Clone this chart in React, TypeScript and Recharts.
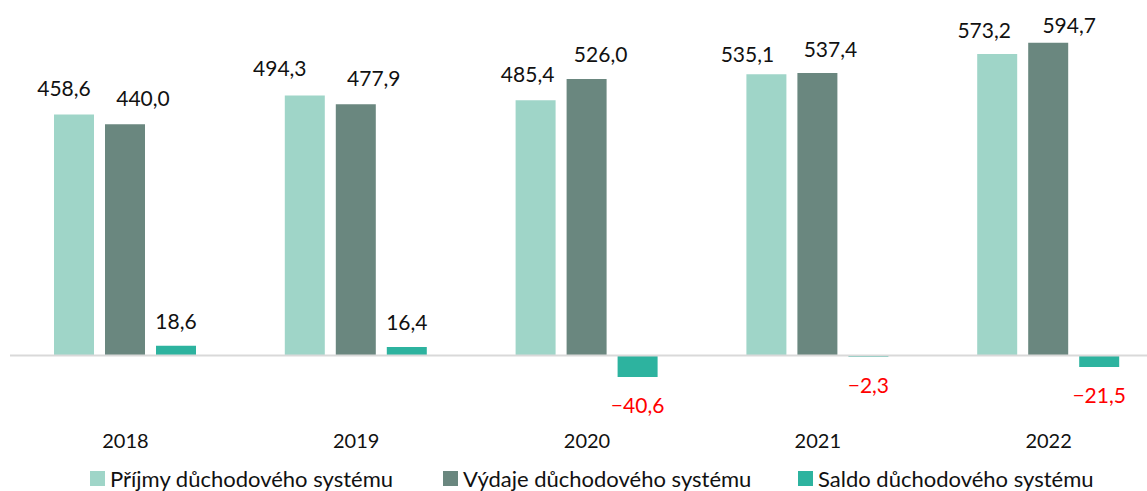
import { Bar, BarChart, LabelList, Legend, ReferenceLine, XAxis, YAxis } from "recharts";

const years = ["2018", "2019", "2020", "2021", "2022"];
const prijmy = [458.6, 494.3, 485.4, 535.1, 573.2];
const vydaje = [440.0, 477.9, 526.0, 537.4, 594.7];
const saldo = [18.6, 16.4, -40.6, -2.3, -21.5];

const seriesNames = ["Příjmy důchodového systému", "Výdaje důchodového systému", "Saldo důchodového systému"];
const colors = ["#9fd5c8", "#6a877f", "#2db39f"];

// manual label placement as in the original (horizontal shift, gap above bar)
const shiftPrijmy = [-10, -25, -8, -19, -13];
const gapPrijmy = [18, 20, 18, 12, 16];
const shiftVydaje = [18, 18, 14, 13, 21];
const gapVydaje = [18, 18, 17, 16, 10];

const data = years.map((y, i) => ({ year: y, prijmy: prijmy[i], vydaje: vydaje[i], saldo: saldo[i] }));

const font = "Lato, 'Open Sans', sans-serif";
const fmt = (v: number) => (v < 0 ? "\u2212" : "") + Math.abs(v).toFixed(1).replace(".", ",");

const makeLabel = (shift?: number[], gap?: number[]) => (props: any) => {
  const { x, y, width, height, value, index } = props;
  const v = Number(value);
  const cx = x + width / 2 + (shift ? shift[index] : 0);
  const top = Math.min(y, y + height);
  const bottom = Math.max(y, y + height);
  if (v < 0) {
    return (
      <text x={cx} y={bottom + 36} textAnchor="middle" fill="#ff0000" fontSize={21} fontFamily={font}>
        {fmt(v)}
      </text>
    );
  }
  return (
    <text x={cx} y={top - (gap ? gap[index] : 17)} textAnchor="middle" fill="#111" fontSize={21} fontFamily={font}>
      {fmt(v)}
    </text>
  );
};

function LegendBox() {
  const lefts = [90, 443, 798];
  return (
    <div style={{ position: "relative", height: 32, fontFamily: font, fontSize: 22, color: "#111" }}>
      {seriesNames.map((n, i) => (
        <div key={n} style={{ position: "absolute", left: lefts[i] - 10, top: 6, display: "flex", alignItems: "center", whiteSpace: "nowrap" }}>
          <span style={{ display: "inline-block", width: 15, height: 15, background: colors[i], marginRight: 5 }} />
          {n}
        </div>
      ))}
    </div>
  );
}

export default function App() {
  return (
    <div style={{ position: "fixed", left: 0, top: 0, width: 1147, height: 491, overflow: "hidden", background: "#fff" }}>
      <BarChart
        width={1164}
        height={491}
        data={data}
        margin={{ top: 40, right: 0, bottom: 0, left: 10 }}
        barSize={40}
        barGap={11}
      >
        <YAxis hide domain={[-130, 600]} />
        <XAxis
          dataKey="year"
          axisLine={false}
          tickLine={false}
          height={35}
          tick={{ fill: "#111", fontSize: 20, fontFamily: font }}
          tickMargin={4}
        />
        <ReferenceLine y={0} stroke="#d9d9d9" strokeWidth={2} />
        <Legend verticalAlign="bottom" content={() => <LegendBox />} />
        <Bar dataKey="prijmy" name={seriesNames[0]} fill={colors[0]} isAnimationActive={false}>
          <LabelList dataKey="prijmy" content={makeLabel(shiftPrijmy, gapPrijmy)} />
        </Bar>
        <Bar dataKey="vydaje" name={seriesNames[1]} fill={colors[1]} isAnimationActive={false}>
          <LabelList dataKey="vydaje" content={makeLabel(shiftVydaje, gapVydaje)} />
        </Bar>
        <Bar dataKey="saldo" name={seriesNames[2]} fill={colors[2]} isAnimationActive={false}>
          <LabelList dataKey="saldo" content={makeLabel()} />
        </Bar>
      </BarChart>
    </div>
  );
}
